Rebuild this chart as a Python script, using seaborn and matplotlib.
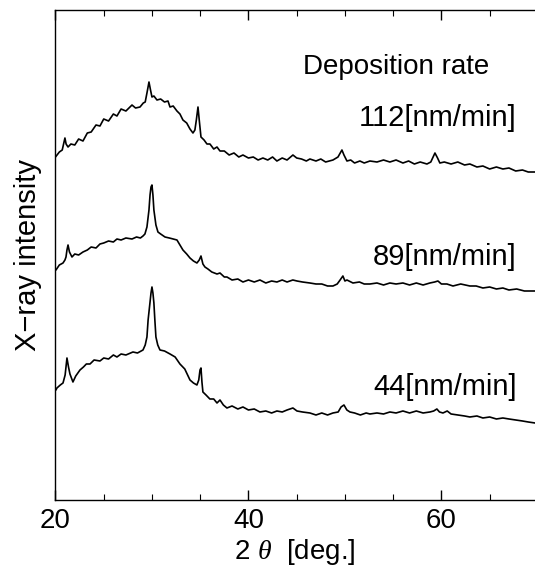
import numpy as np
import pandas as pd
import matplotlib
matplotlib.use("Agg")
import matplotlib.pyplot as plt
import matplotlib.ticker as mticker
import seaborn as sns

# ── Data (arbitrary intensity units) ────────────────────────────────────────
two_theta_112 = [20.0, 20.4, 20.7, 20.98, 21.1, 21.3, 21.6, 22.0, 22.4, 22.85, 23.3, 23.7,
                 24.2, 24.61, 25.0, 25.5, 26.0, 26.37, 26.8, 27.3, 27.93, 28.3, 28.76, 29.1,
                 29.3, 29.5, 29.69, 29.85, 30.0, 30.2, 30.52, 30.9, 31.3, 31.66, 31.87, 32.2,
                 32.59, 32.9, 33.21, 33.6, 33.94, 34.25, 34.45, 34.6, 34.77, 34.9, 35.08, 35.4,
                 35.7, 36.01, 36.4, 36.74, 37.05, 37.5, 38.0, 38.5, 39.0, 39.43, 40.0, 40.5,
                 41.0, 41.5, 42.0, 42.5, 42.95, 43.5, 44.0, 44.61, 45.0, 45.5, 46.0, 46.37,
                 47.0, 47.5, 48.0, 48.76, 49.28, 49.69, 49.9, 50.21, 50.6, 51.0, 51.55, 52.0,
                 52.59, 53.32, 54.0, 54.66, 55.3, 56.01, 56.6, 57.2, 57.8, 58.5, 58.9, 59.33,
                 59.6, 59.84, 60.3, 61.0, 61.7, 62.4, 62.95, 63.68, 64.3, 65.0, 65.7, 66.37,
                 67.0, 67.7, 68.4, 69.0, 69.7]
intensity_112 = [343, 348, 350, 362, 356, 353, 356, 355, 361, 359, 367, 368,
                 375, 374, 381, 379, 386, 384, 391, 389, 395, 392, 393, 397,
                 398, 408, 418, 410, 403, 404, 400, 401, 398, 399, 393, 394,
                 389, 386, 380, 377, 371, 367, 370, 380, 393, 380, 363, 360,
                 356, 356, 351, 353, 349, 349, 345, 347, 343, 345, 342, 343,
                 340, 342, 340, 343, 339, 342, 340, 345, 342, 341, 339, 341,
                 339, 341, 338, 340, 343, 350, 345, 339, 340, 337, 339, 337,
                 339, 338, 340, 338, 340, 337, 339, 336, 338, 336, 338, 347,
                 342, 337, 338, 336, 338, 335, 336, 333, 334, 331, 333, 331,
                 332, 329, 330, 328, 328]

two_theta_89 = [20.05, 20.4, 20.78, 20.98, 21.09, 21.19, 21.3, 21.45, 21.71, 22.0, 22.4, 22.85,
                23.3, 23.7, 24.2, 24.61, 25.0, 25.5, 26.0, 26.37, 26.8, 27.3, 27.93, 28.4,
                28.8, 29.07, 29.27, 29.48, 29.69, 29.8, 29.9, 30.0, 30.1, 30.2, 30.41, 30.62,
                30.9, 31.35, 31.8, 32.2, 32.59, 32.9, 33.21, 33.6, 33.94, 34.3, 34.66, 34.9,
                35.08, 35.28, 35.49, 35.8, 36.2, 36.74, 37.05, 37.5, 37.77, 38.3, 38.9, 39.43,
                40.0, 40.6, 41.19, 41.8, 42.4, 42.95, 43.5, 44.0, 44.6, 45.03, 45.6, 46.37,
                47.0, 47.6, 48.2, 48.76, 49.2, 49.5, 49.79, 50.0, 50.21, 50.83, 51.5, 52.0,
                52.59, 53.32, 54.0, 54.66, 55.3, 56.01, 56.7, 57.4, 58.1, 58.81, 59.3, 59.64,
                60.0, 60.57, 61.2, 62.0, 62.95, 63.6, 64.3, 65.0, 65.7, 66.37, 67.0, 67.8,
                68.6, 69.7]
intensity_89 = [230, 235, 237, 240, 243, 250, 255, 248, 243, 246, 245, 248,
                250, 253, 252, 256, 257, 259, 258, 261, 260, 262, 261, 263,
                262, 264, 266, 273, 290, 305, 313, 315, 305, 290, 275, 268,
                266, 263, 262, 261, 260, 255, 250, 246, 242, 239, 237, 240,
                244, 236, 233, 231, 228, 226, 227, 223, 223, 220, 221, 218,
                220, 218, 220, 217, 219, 218, 220, 218, 220, 219, 218, 217,
                216, 216, 214, 214, 216, 220, 224, 219, 220, 217, 218, 216,
                216, 217, 215, 217, 216, 217, 215, 217, 215, 217, 218, 219,
                216, 216, 214, 216, 214, 214, 212, 213, 211, 212, 210, 211,
                209, 209]

two_theta_44 = [20.05, 20.15, 20.5, 20.78, 21.0, 21.19, 21.35, 21.5, 21.81, 22.1, 22.54, 22.9,
                23.2, 23.58, 24.0, 24.61, 25.0, 25.5, 26.0, 26.37, 26.8, 27.3, 28.03, 28.5,
                29.07, 29.3, 29.48, 29.6, 29.79, 29.9, 30.0, 30.1, 30.2, 30.3, 30.41, 30.6,
                30.83, 31.3, 31.87, 32.4, 32.9, 33.4, 33.94, 34.3, 34.66, 34.85, 34.98, 35.08,
                35.18, 35.28, 35.6, 36.0, 36.4, 36.74, 37.05, 37.4, 37.77, 38.3, 38.9, 39.43,
                40.0, 40.6, 41.19, 41.8, 42.4, 42.95, 43.5, 44.0, 44.61, 45.03, 45.6, 46.37,
                47.0, 47.6, 48.2, 48.76, 49.3, 49.6, 49.9, 50.2, 50.52, 51.0, 51.6, 52.2,
                52.59, 53.32, 54.0, 54.66, 55.3, 56.01, 56.7, 57.4, 58.1, 58.81, 59.2, 59.53,
                59.8, 60.16, 60.6, 61.0, 61.7, 62.4, 62.95, 63.68, 64.3, 65.0, 65.7, 66.37,
                67.0, 67.7, 68.4, 69.0, 69.7]
intensity_44 = [110, 112, 115, 117, 125, 142, 133, 126, 118, 124, 130, 133,
                136, 136, 140, 139, 142, 141, 145, 143, 146, 145, 148, 147,
                150, 155, 163, 180, 197, 207, 213, 207, 197, 180, 163, 155,
                150, 149, 146, 143, 136, 131, 120, 117, 115, 120, 130, 132,
                118, 108, 105, 101, 101, 97, 100, 95, 92, 94, 91, 93,
                90, 91, 88, 89, 87, 89, 88, 90, 92, 89, 88, 87,
                85, 87, 85, 87, 88, 93, 95, 90, 88, 87, 85, 87,
                86, 87, 86, 88, 87, 89, 87, 89, 87, 88, 89, 91,
                88, 87, 89, 86, 85, 84, 83, 84, 82, 83, 81, 82,
                81, 80, 79, 78, 77]

rate_labels = ["112[nm/min]", "89[nm/min]", "44[nm/min]"]
label_heights = [382, 243, 113]   # intensity level of each rate label

# ── Style ───────────────────────────────────────────────────────────────────
sns.set_theme(style="ticks")
plt.rcParams["font.family"] = ["Liberation Sans", "DejaVu Sans"]
plt.rcParams["text.color"] = "black"
plt.rcParams["axes.labelcolor"] = "black"
plt.rcParams["xtick.color"] = "black"
plt.rcParams["mathtext.fontset"] = "custom"
plt.rcParams["mathtext.it"] = "Liberation Serif:italic"

fig = plt.figure(figsize=(5.35, 5.72), dpi=100)
ax = fig.add_axes([0.1037, 0.1259, 0.8963, 0.8566])

for tt, inten in [(two_theta_112, intensity_112),
                  (two_theta_89, intensity_89),
                  (two_theta_44, intensity_44)]:
    sns.lineplot(x=tt, y=inten, ax=ax, color="black", linewidth=1.2,
                 sort=False, estimator=None)

ax.set_xlim(20, 69.7)
ax.set_ylim(0, 490)
ax.set_yticks([])
ax.xaxis.set_major_locator(mticker.MultipleLocator(20))
ax.xaxis.set_minor_locator(mticker.MultipleLocator(5))
ax.tick_params(axis="x", which="major", direction="in", length=7, width=1,
               top=True, labelsize=20, pad=6)
ax.tick_params(axis="x", which="minor", direction="in", length=4, width=0.8, top=True)
for side in ["left", "bottom", "top"]:
    ax.spines[side].set_linewidth(1.0)
    ax.spines[side].set_color("black")
ax.spines["right"].set_visible(False)

ax.set_xlabel(r"2 $\theta$  [deg.]", fontsize=20, labelpad=2)
ax.set_ylabel("X\u2212ray intensity", fontsize=21, labelpad=10)

ax.text(0.905, 433, "Deposition rate", ha="right", va="center", fontsize=20,
        transform=ax.get_yaxis_transform())
for lab, h in zip(rate_labels, label_heights):
    ax.text(0.962, h, lab, ha="right", va="center", fontsize=21,
            transform=ax.get_yaxis_transform())

fig.savefig("out.png", dpi=100)
